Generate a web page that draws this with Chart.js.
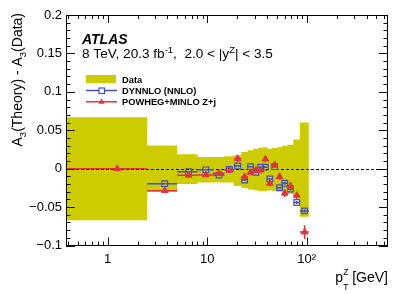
<!DOCTYPE html>
<html>
<head>
<meta charset="utf-8">
<script src="https://cdn.jsdelivr.net/npm/chart.js@4.4.0/dist/chart.umd.min.js"></script>
<style>
  html, body { margin: 0; padding: 0; background: #fff; }
  #wrap { width: 409px; height: 294px; position: relative; }
</style>
</head>
<body>
<div id="wrap"><canvas id="chart"></canvas></div>
<script>
// pT bins (GeV) and values
const binLow    = [0, 2.5, 5, 8, 11.4, 14.9, 18.5, 22, 25.5, 29, 32.6, 36.4, 40.4, 44.9, 50.2, 56.4, 63.9, 73.4, 85.4];
const binHigh   = [2.5, 5, 8, 11.4, 14.9, 18.5, 22, 25.5, 29, 32.6, 36.4, 40.4, 44.9, 50.2, 56.4, 63.9, 73.4, 85.4, 105];
const binCentre = [1.25, 3.75, 6.5, 9.7, 13.15, 16.7, 20.25, 23.75, 27.25, 30.8, 34.5, 38.4, 42.65, 47.55, 53.3, 60.15, 68.65, 79.4, 95.2];

// data uncertainty band (upper / lower edge)
const dataUp   = [0.067, 0.030, 0.0187, 0.0152, 0.0152, 0.016, 0.0174, 0.0217, 0.024, 0.026, 0.0273, 0.028, 0.026, 0.027, 0.028, 0.0296, 0.031, 0.038, 0.060];
const dataDown = [-0.067, -0.030, -0.020, -0.018, -0.018, -0.018, -0.0225, -0.025, -0.027, -0.028, -0.029, -0.029, -0.028, -0.029, -0.030, -0.031, -0.033, -0.036, -0.0625];

// no DYNNLO point in the first bin
const dynnlo    = [null, -0.0195, -0.0039, -0.0015, -0.0084, -0.001, 0.0035, -0.0147, 0.0026, -0.0047, 0.0018, 0.002, -0.0134, 0.0026, -0.0247, -0.019, -0.0265, -0.044, -0.055];
const dynnloErr = [0, 0.001, 0.001, 0.001, 0.001, 0.001, 0.001, 0.001, 0.001, 0.001, 0.001, 0.001, 0.001, 0.001, 0.001, 0.002, 0.002, 0.002, 0.002];
const powheg    = [0, -0.0286, -0.0086, -0.0082, -0.006, -0.002, 0.013, -0.0104, -0.005, -0.002, -0.002, 0.0125, -0.019, 0.005, -0.0104, -0.032, -0.0225, -0.035, -0.0825];
const powhegErr = [0.001, 0.002, 0.002, 0.002, 0.002, 0.003, 0.004, 0.003, 0.003, 0.003, 0.003, 0.004, 0.004, 0.004, 0.004, 0.005, 0.005, 0.005, 0.009];

const xTicks = [1, 10, 100];
const xLabels = ['1', '10', '10\u00B2'];
const yTicks = [-0.1, -0.05, 0, 0.05, 0.1, 0.15, 0.2];

const X_MIN = 0.383, X_MAX = 654;
const Y_MIN = -0.1, Y_MAX = 0.2;

const YELLOW = '#cdcc00';
const BLUE = '#3d4fd0';
const RED = '#e0343c';
const FONT = '"Liberation Sans", Arial, Helvetica, sans-serif';

// minor tick positions
const xMinor = [];
[0.1, 1, 10, 100].forEach(d => { for (let k = 2; k <= 9; k++) xMinor.push(k * d); });
const yMinor = [];
for (let k = -9; k <= 19; k++) if (k % 5 !== 0) yMinor.push(k / 100);

// step outline of the band, built from the bins
function bandPoints(vals) {
  const pts = [];
  vals.forEach((v, i) => {
    pts.push({ x: Math.max(binLow[i], X_MIN), y: v });
    pts.push({ x: binHigh[i], y: v });
  });
  return pts;
}
function markerPoints(vals) {
  return vals.map((v, i) => ({ x: binCentre[i], y: v }));
}

// draws bin-width and vertical error bars under each marker set
const errorBars = {
  id: 'errorBars',
  beforeDatasetDraw(chart, args) {
    const ds = chart.data.datasets[args.index];
    const { ctx, scales: { x, y } } = chart;
    if (ds.zeroLine) {
      ctx.save();
      ctx.strokeStyle = '#000';
      ctx.lineWidth = 1;
      ctx.setLineDash([3, 2]);
      const py = Math.round(y.getPixelForValue(0)) + 0.5;
      ctx.beginPath();
      ctx.moveTo(chart.chartArea.left, py);
      ctx.lineTo(chart.chartArea.right, py);
      ctx.stroke();
      ctx.restore();
    }
    if (!ds.bars) return;
    ctx.save();
    ctx.strokeStyle = ds.bars.color;
    ctx.lineWidth = 1.5;
    ds.data.forEach((p, i) => {
      if (p.y === null) return;
      const py = y.getPixelForValue(p.y);
      const x0 = x.getPixelForValue(Math.max(binLow[i], X_MIN));
      const x1 = x.getPixelForValue(binHigh[i]);
      const px = x.getPixelForValue(p.x);
      ctx.beginPath();
      ctx.moveTo(x0, py);
      ctx.lineTo(x1, py);
      ctx.moveTo(px, y.getPixelForValue(p.y - ds.bars.err[i]));
      ctx.lineTo(px, y.getPixelForValue(p.y + ds.bars.err[i]));
      ctx.stroke();
    });
    ctx.restore();
  }
};

function drawRich(ctx, x, y, parts, align) {
  let total = 0;
  parts.forEach(p => {
    ctx.font = (p.style || '') + ' ' + p.size + 'px ' + FONT;
    p.w = ctx.measureText(p.t).width;
    if (!p.stack) total += p.w;
  });
  let cx = align === 'right' ? x - total : x;
  parts.forEach(p => {
    ctx.font = (p.style || '') + ' ' + p.size + 'px ' + FONT;
    ctx.fillText(p.t, cx, y + (p.dy || 0));
    if (!p.stack) cx += p.w;
  });
}

// frame, inward ticks, axis titles, labels and legend
const decorations = {
  id: 'decorations',
  afterDraw(chart) {
    const { ctx, chartArea: a, scales: { x, y } } = chart;
    ctx.save();
    ctx.strokeStyle = '#111';
    ctx.lineWidth = 1;
    ctx.beginPath();
    yTicks.forEach(v => {
      const py = Math.round(y.getPixelForValue(v)) + 0.5;
      ctx.moveTo(a.left, py); ctx.lineTo(a.left + 9, py);
      ctx.moveTo(a.right, py); ctx.lineTo(a.right - 9, py);
    });
    yMinor.forEach(v => {
      const py = Math.round(y.getPixelForValue(v)) + 0.5;
      ctx.moveTo(a.left, py); ctx.lineTo(a.left + 4.5, py);
      ctx.moveTo(a.right, py); ctx.lineTo(a.right - 4.5, py);
    });
    xTicks.forEach(v => {
      const px = Math.round(x.getPixelForValue(v)) + 0.5;
      ctx.moveTo(px, a.bottom); ctx.lineTo(px, a.bottom - 8);
      ctx.moveTo(px, a.top); ctx.lineTo(px, a.top + 8);
    });
    xMinor.forEach(v => {
      if (v < X_MIN || v > X_MAX) return;
      const px = Math.round(x.getPixelForValue(v)) + 0.5;
      ctx.moveTo(px, a.bottom); ctx.lineTo(px, a.bottom - 4);
      ctx.moveTo(px, a.top); ctx.lineTo(px, a.top + 4);
    });
    ctx.stroke();
    ctx.strokeStyle = '#000';
    ctx.strokeRect(Math.round(a.left) + 0.5, Math.round(a.top) + 0.5,
      Math.round(a.right - a.left) - 1, Math.round(a.bottom - a.top) - 1);

    ctx.fillStyle = '#000';
    ctx.textBaseline = 'alphabetic';
    // x title
    drawRich(ctx, a.right, 282, [
      { t: 'p', size: 14 },
      { t: 'T', size: 8.5, dy: 8, stack: true },
      { t: 'Z', size: 8.5, dy: -7 },
      { t: ' [GeV]', size: 14 }
    ], 'right');
    // y title
    ctx.save();
    ctx.translate(22, 13);
    ctx.rotate(-Math.PI / 2);
    drawRich(ctx, 0, 0, [
      { t: 'A', size: 14 },
      { t: '3', size: 9.5, dy: 4 },
      { t: '(Theory) - A', size: 14 },
      { t: '3', size: 9.5, dy: 4 },
      { t: '(Data)', size: 14 }
    ], 'right');
    ctx.restore();

    // ATLAS label
    drawRich(ctx, 82, 43.5, [{ t: 'ATLAS', size: 14, style: 'italic bold' }]);
    drawRich(ctx, 82, 57.5, [
      { t: '8 TeV, 20.3 fb', size: 13.6 },
      { t: '-1', size: 9.5, dy: -5 },
      { t: ',  2.0 < |y', size: 13.6 },
      { t: 'Z', size: 9.5, dy: -5 },
      { t: '| < 3.5', size: 13.6 }
    ]);

    // legend
    ctx.fillStyle = YELLOW;
    ctx.fillRect(86, 75, 30, 8);
    ctx.lineWidth = 1.5;
    ctx.strokeStyle = BLUE;
    ctx.beginPath(); ctx.moveTo(86, 90.5); ctx.lineTo(117, 90.5); ctx.stroke();
    ctx.fillStyle = '#fff';
    ctx.fillRect(99, 88, 5.5, 5.5);
    ctx.lineWidth = 1.2;
    ctx.strokeRect(99, 88, 5.5, 5.5);
    ctx.lineWidth = 1.5;
    ctx.strokeStyle = RED;
    ctx.beginPath(); ctx.moveTo(86, 101.8); ctx.lineTo(117, 101.8); ctx.stroke();
    ctx.fillStyle = RED;
    ctx.beginPath();
    ctx.moveTo(101.5, 98.5); ctx.lineTo(104.6, 103.8); ctx.lineTo(98.4, 103.8);
    ctx.closePath(); ctx.fill();
    ctx.fillStyle = '#000';
    drawRich(ctx, 122, 82.5, [{ t: 'Data', size: 9.3, style: 'bold' }]);
    drawRich(ctx, 122, 93.8, [{ t: 'DYNNLO (NNLO)', size: 9.3, style: 'bold' }]);
    drawRich(ctx, 122, 105, [{ t: 'POWHEG+MINLO Z+j', size: 9.3, style: 'bold' }]);
    ctx.restore();
  }
};

new Chart(document.getElementById('chart'), {
  type: 'scatter',
  data: {
    datasets: [
      {
        label: 'POWHEG+MINLO Z+j',
        data: markerPoints(powheg),
        pointStyle: 'triangle',
        pointRadius: 3.8,
        backgroundColor: RED,
        borderColor: RED,
        borderWidth: 1,
        bars: { color: RED, err: powhegErr },
        order: 1
      },
      {
        label: 'DYNNLO (NNLO)',
        data: markerPoints(dynnlo),
        pointStyle: 'rect',
        pointRadius: 4,
        backgroundColor: 'rgba(0,0,0,0)',
        borderColor: BLUE,
        borderWidth: 1.2,
        bars: { color: BLUE, err: dynnloErr },
        zeroLine: true,
        order: 2
      },
      {
        type: 'line',
        label: 'Data',
        data: bandPoints(dataUp),
        borderWidth: 0,
        pointRadius: 0,
        backgroundColor: YELLOW,
        fill: '+1',
        tension: 0,
        order: 10
      },
      {
        type: 'line',
        label: 'Data low',
        data: bandPoints(dataDown),
        borderWidth: 0,
        pointRadius: 0,
        fill: false,
        tension: 0,
        order: 11
      }
    ]
  },
  options: {
    responsive: true,
    maintainAspectRatio: false,
    animation: false,
    events: [],
    layout: { padding: { top: 15, right: 21, left: 0, bottom: 0 } },
    plugins: {
      legend: { display: false },
      tooltip: { enabled: false }
    },
    scales: {
      x: {
        type: 'logarithmic',
        min: X_MIN,
        max: X_MAX,
        afterBuildTicks: s => { s.ticks = xTicks.map(v => ({ value: v })); },
        afterFit: s => { s.height = 48.5; },
        grid: { display: false, drawTicks: false },
        border: { display: false },
        ticks: {
          autoSkip: false,
          maxRotation: 0,
          padding: 6,
          color: '#000',
          font: { family: FONT, size: 13 },
          callback: v => xLabels[xTicks.indexOf(v)]
        }
      },
      y: {
        type: 'linear',
        min: Y_MIN,
        max: Y_MAX,
        afterBuildTicks: s => { s.ticks = yTicks.map(v => ({ value: v })); },
        afterFit: s => { s.width = 66; },
        grid: { display: false, drawTicks: false },
        border: { display: false },
        ticks: {
          padding: 4,
          color: '#000',
          font: { family: FONT, size: 13 },
          callback: v => String(Math.round(v * 100) / 100).replace('-', '\u2212')
        }
      }
    }
  },
  plugins: [errorBars, decorations]
});
</script>
</body>
</html>
